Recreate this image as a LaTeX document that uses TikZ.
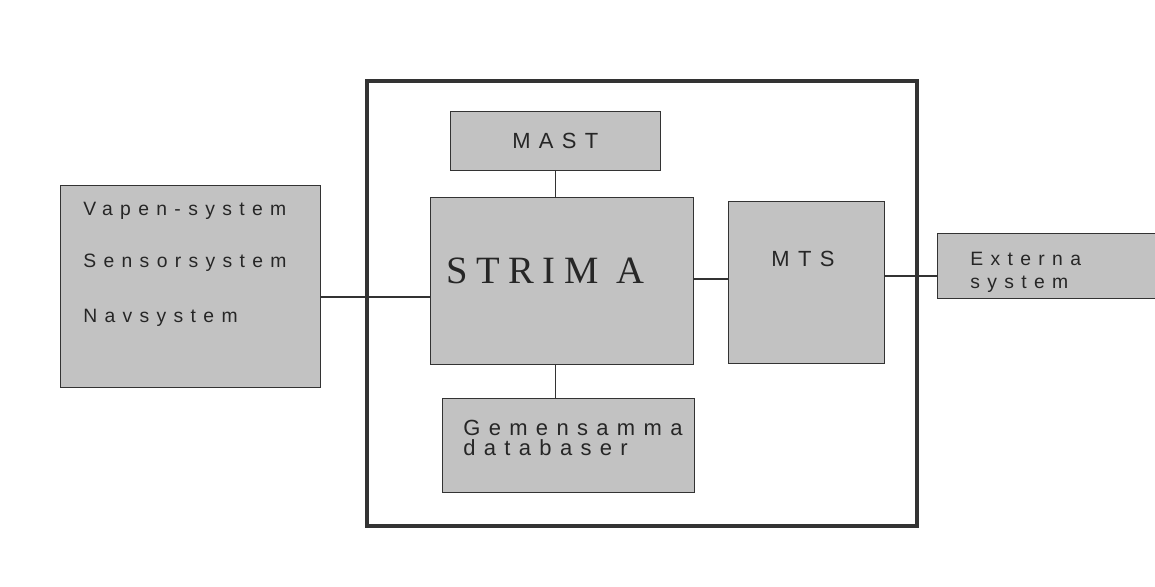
\documentclass[tikz,border=0pt]{standalone}
\usepackage{fontspec}
\setmainfont{Liberation Sans}
\newfontfamily\spacedsans[LetterSpace=38]{Liberation Sans}
\newfontfamily\spacedserif[LetterSpace=22]{Liberation Serif}
\usetikzlibrary{positioning}

\begin{document}
\begin{tikzpicture}[
  x=0.02cm, y=-0.02cm,
  every node/.style={inner sep=0pt},
  blk/.style={draw=black!80, line width=0.8pt, fill=black!24, anchor=north west},
  lbl/.style={anchor=base west, text=black!85, font=\spacedsans\fontsize{11}{13}\selectfont},
  biglbl/.style={lbl, font=\spacedsans\fontsize{12.5}{14}\selectfont},
  link/.style={black!80, line width=0.9pt},
]
\useasboundingbox (0,0) rectangle (1155,586);
\clip (0,0) rectangle (1155,586);

%% outer frame
\draw[black!80, line width=2.3pt] (367,81) rectangle (917,526);

%% blocks
\node[blk, minimum width=5.2cm, minimum height=4.04cm] (sys) at (60,185) {};
\node[blk, minimum width=4.2cm, minimum height=1.18cm] (mast) at (450,111) {};
\node[blk, minimum width=5.26cm, minimum height=3.34cm] (strima) at (430,197) {};
\node[blk, minimum width=3.12cm, minimum height=3.24cm] (mts) at (728,201) {};
\node[blk, minimum width=5.04cm, minimum height=1.88cm] (gem) at (442,398) {};
\node[blk, minimum width=4.6cm, minimum height=1.3cm] (ext) at (937,233) {};

%% labels
\node[lbl] (vapen) at (83,215) {Vapen-system};
\node[lbl] (sensor) at (83,267) {Sensorsystem};
\node[lbl] (nav) at (83,322) {Navsystem};
\node[biglbl] (mastlbl) at (512,148) {MAST};
\node[lbl, font=\spacedserif\fontsize{22}{26}\selectfont] (strimalbl) at (446,283) {STRIM A};
\node[biglbl] (mtslbl) at (771,266) {MTS};
\node[biglbl] (gemlbl) at (463,435) {Gemensamma};
\node[biglbl] (dblbl) at (463,455) {databaser};
\node[lbl] (extlbl) at (970,265) {Externa};
\node[lbl] (extlbl2) at (970,288) {system};

%% connectors
\coordinate (sysout) at (320,297);
\coordinate (mtsout) at (884,276);
\draw[link] (sys.east |- sysout) -- (strima.west |- sysout);
\draw[link] (mast.south) -- (strima.north -| mast.south);
\draw[link] (strima.south -| mast.south) -- (gem.north -| mast.south);
\draw[link] (strima.east |- 0,279) -- (mts.west |- 0,279);
\draw[link] (mts.east |- mtsout) -- (ext.west |- mtsout);

\end{tikzpicture}
\end{document}
